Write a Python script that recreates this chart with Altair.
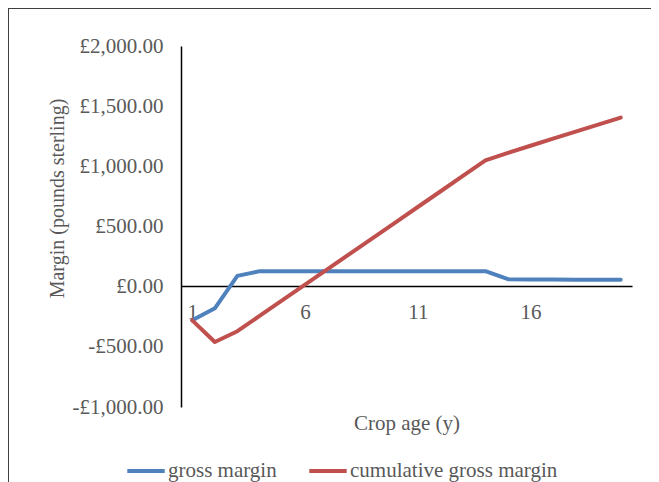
import altair as alt
import pandas as pd

ages = list(range(1, 21))
gross_margin = [-280, -180, 90, 129, 129, 129, 129, 129, 129, 129,
                129, 129, 129, 129, 62, 60, 60, 58, 58, 58]
cumulative_gross_margin = [-280, -460, -370, -241, -112, 17, 146, 275, 404, 533,
                           662, 791, 920, 1049, 1111, 1171, 1231, 1289, 1347, 1405]
series_names = ["gross margin", "cumulative gross margin"]
series_colors = ["#4F81BD", "#C0504D"]
y_ticks = [-1000, -500, 0, 500, 1000, 1500, 2000]
x_ticks = [1, 6, 11, 16]

rows = []
for name, vals in zip(series_names, [gross_margin, cumulative_gross_margin]):
    for a, v in zip(ages, vals):
        rows.append({"age": a, "value": v, "series": name})
df = pd.DataFrame(rows)

FONT = "Liberation Serif"
GREY = "#595959"
W, H = 451, 361
PL, PT, PR, PB = 173, 38, 19, 75

lines = alt.Chart(df).mark_line(strokeWidth=4, strokeJoin="round", strokeCap="round").encode(
    x=alt.X("age:Q",
            scale=alt.Scale(domain=[0.5, 20.5], nice=False, zero=False),
            axis=alt.Axis(values=x_ticks, title="Crop age (y)", offset=-121,
                          domainColor="#000000", domainWidth=1.5, ticks=False, tickSize=0,
                          grid=False, labelFont=FONT, labelFontSize=21, labelColor=GREY,
                          labelPadding=15, labelFlush=False, labelOverlap=False,
                          titleFont=FONT, titleFontSize=21, titleColor=GREY,
                          titleFontWeight="normal", titlePadding=90)),
    y=alt.Y("value:Q",
            scale=alt.Scale(domain=[-1000, 2000], nice=False),
            axis=alt.Axis(values=y_ticks, title="Margin (pounds sterling)",
                          labelExpr="(datum.value < 0 ? '-' : '') + '£' + format(abs(datum.value), ',.2f')",
                          domainColor="#000000", domainWidth=1.5, ticks=False, tickSize=0,
                          grid=False, labelFont=FONT, labelFontSize=21, labelColor=GREY,
                          labelPadding=18, labelOverlap=False,
                          titleFont=FONT, titleFontSize=20, titleColor=GREY,
                          titleFontWeight="normal", titleX=-124, titleY=152,
                          titleBaseline="middle", titleAlign="center", titleAngle=270)),
    color=alt.Color("series:N",
                    scale=alt.Scale(domain=series_names, range=series_colors),
                    legend=alt.Legend(title=None, orient="none", direction="horizontal",
                                      legendX=-56, legendY=404, symbolType="stroke",
                                      symbolSize=1400, symbolStrokeWidth=4,
                                      labelFont=FONT, labelFontSize=21, labelColor=GREY,
                                      labelOffset=1, labelLimit=0, columnPadding=24,
                                      padding=0)),
)

frame = alt.Chart(alt.Data(values=[{"k": 1}])).mark_rect(
    fill=None, stroke="#404040", strokeWidth=2
).encode(
    x=alt.value(-PL), y=alt.value(-PT),
    x2=alt.value(W + PR + 40), y2=alt.value(H + PB + 40)
)

chart = alt.layer(frame, lines).properties(
    width=W, height=H,
    padding={"left": PL, "top": PT, "right": PR, "bottom": PB},
    autosize=alt.AutoSizeParams(type="none"),
).configure_view(stroke=None)

chart.save("out.html", embed_options={"renderer": "svg", "actions": False})
